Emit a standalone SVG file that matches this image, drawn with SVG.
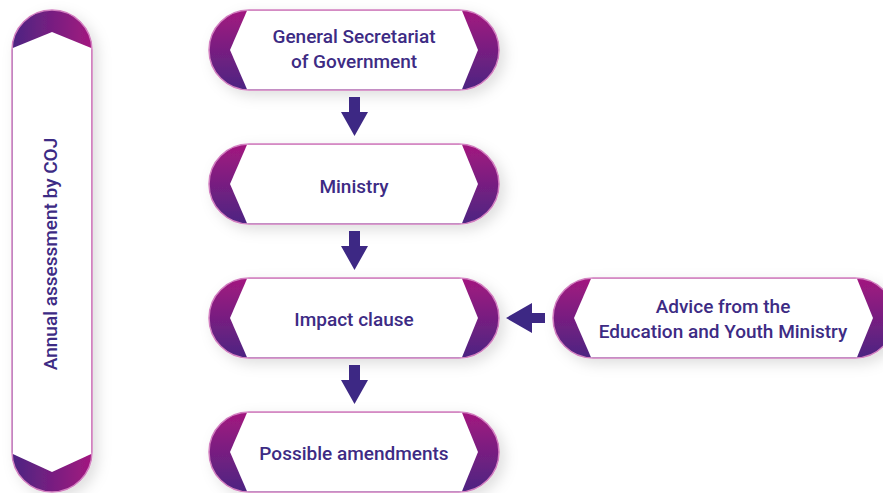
<svg xmlns="http://www.w3.org/2000/svg" width="883" height="493" viewBox="0 0 883 493">
<defs>
<linearGradient id="gv" x1="0" y1="0" x2="0" y2="1">
<stop offset="0" stop-color="#a3187f"/><stop offset="1" stop-color="#4c2582"/>
</linearGradient>
<linearGradient id="gh" x1="0" y1="0" x2="1" y2="0">
<stop offset="0" stop-color="#4c2582"/><stop offset="1" stop-color="#a3187f"/>
</linearGradient>
<filter id="sh" x="-20%" y="-20%" width="150%" height="160%">
<feDropShadow dx="5" dy="5" stdDeviation="7" flood-color="#000" flood-opacity="0.13"/>
</filter>
<marker id="ah" viewBox="0 0 10 10" refX="0" refY="5" markerWidth="1" markerHeight="1" orient="auto"/>
</defs>
<style>
.pill{fill:url(#gv);stroke:#d27fc0;stroke-width:1.5;filter:url(#sh)}
.inner{fill:#fff}
.t{font-family:Roboto,"Liberation Sans",sans-serif;font-weight:500;font-size:19px;fill:#3d2b84;text-anchor:middle}
.arr{fill:#3d2884}
</style>
<rect width="883" height="493" fill="#fff"/>
<g id="col">
<rect x="12" y="10" width="80" height="482" rx="40" fill="url(#gh)" stroke="#d27fc0" stroke-width="1.5" filter="url(#sh)"/>
<polygon class="inner" points="12.8,48 52,32 91.2,48 91.2,454 52,472 12.8,454"/>
<text class="t" transform="translate(57,254) rotate(-90)">Annual assessment by COJ</text>
</g>
<g id="n1">
<rect class="pill" x="209" y="10" width="290" height="80" rx="40"/>
<polygon class="inner" points="247,10.8 462,10.8 478,50 462,89.2 247,89.2 230,50"/>
<text class="t" x="354" y="43">General Secretariat</text>
<text class="t" x="354" y="68">of Government</text>
</g>
<g id="n2">
<rect class="pill" x="209" y="144" width="290" height="80" rx="40"/>
<polygon class="inner" points="247,144.8 462,144.8 478,184 462,223.2 247,223.2 230,184"/>
<text class="t" x="354" y="193">Ministry</text>
</g>
<g id="n3">
<rect class="pill" x="209" y="278" width="290" height="80" rx="40"/>
<polygon class="inner" points="247,278.8 462,278.8 478,318 462,357.2 247,357.2 230,318"/>
<text class="t" x="354" y="326">Impact clause</text>
</g>
<g id="n4">
<rect class="pill" x="209" y="412" width="290" height="80" rx="40"/>
<polygon class="inner" points="247,412.8 462,412.8 478,452 462,491.2 247,491.2 230,452"/>
<text class="t" x="354" y="460">Possible amendments</text>
</g>
<g id="n5">
<rect class="pill" x="553" y="278" width="342" height="80" rx="40"/>
<polygon class="inner" points="591,278.8 857,278.8 873,318 857,357.2 591,357.2 574,318"/>
<text class="t" x="723" y="313">Advice from the</text>
<text class="t" x="723" y="338">Education and Youth Ministry</text>
</g>
<g id="connectors">
<polygon class="arr" points="349,97 360,97 360,112 368,112 354.5,136 341,112 349,112"/>
<polygon class="arr" points="349,231 360,231 360,246 368,246 354.5,270 341,246 349,246"/>
<polygon class="arr" points="349,365 360,365 360,380 368,380 354.5,404 341,380 349,380"/>
<polygon class="arr" points="545,313 532,313 532,303 506,318 532,333 532,323 545,323"/>
</g>
</svg>
